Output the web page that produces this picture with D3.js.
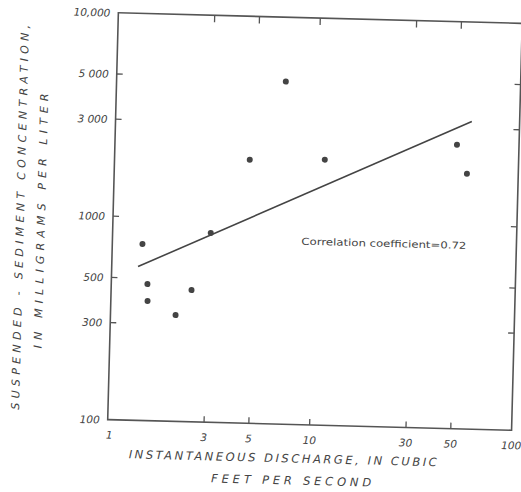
<!DOCTYPE html>
<html>
<head>
<meta charset="utf-8">
<script src="https://cdn.jsdelivr.net/npm/d3@7"></script>
<style>
  body { margin: 0; background: #fff; }
  text { font-family: "DejaVu Sans", sans-serif; font-style: italic; fill: #444; }
</style>
</head>
<body>
<div id="chart"></div>
<script>
// donnees
const discharge = [1.41, 1.51, 1.52, 2.10, 2.50, 3.06, 4.67, 6.88, 10.98, 49.3, 55.7];
const concentration = [737, 469, 387, 333, 444, 852, 1972, 4827, 2018, 2486, 1796];
const fitX = [1.35, 58];
const fitY = [570, 3250];
const xTicks = [1, 3, 5, 10, 30, 50, 100];
const xTickLabels = ["1", "3", "5", "10", "30", "50", "100"];
const yTicks = [100, 300, 500, 1000, 3000, 5000, 10000];
const yTickLabels = ["100", "300", "500", "1000", "3 000", "5 000", "10,000"];

const width = 521, height = 492;
const mLeft = 113, mRight = 517, mTop = 18, mBottom = 425;

const svg = d3.select("#chart")
    .append("svg")
    .attr("width", width)
    .attr("height", height);

// la figure scannee est legerement tournee
const g = svg.append("g")
    .attr("transform", "rotate(1.5, 315, 220)");

const x = d3.scaleLog().domain([1, 100]).range([mLeft, mRight]);
const y = d3.scaleLog().domain([100, 10000]).range([mBottom, mTop]);

// cadre
g.append("rect")
    .attr("x", mLeft).attr("y", mTop)
    .attr("width", mRight - mLeft).attr("height", mBottom - mTop)
    .attr("fill", "none")
    .attr("stroke", "#555")
    .attr("stroke-width", 1.6);

// graduations internes
const inner = xTicks.slice(1, -1);
g.append("g").selectAll("line")
    .data(inner)
    .enter().append("line")
    .attr("x1", d => x(d)).attr("x2", d => x(d))
    .attr("y1", mBottom).attr("y2", mBottom - 6)
    .attr("stroke", "#555").attr("stroke-width", 1.3);
g.append("g").selectAll("line")
    .data(inner)
    .enter().append("line")
    .attr("x1", d => x(d)).attr("x2", d => x(d))
    .attr("y1", mTop).attr("y2", mTop + 7)
    .attr("stroke", "#555").attr("stroke-width", 1.3);

const innerY = yTicks.slice(1, -1);
g.append("g").selectAll("line")
    .data(innerY)
    .enter().append("line")
    .attr("x1", mLeft).attr("x2", mLeft + 6)
    .attr("y1", d => y(d)).attr("y2", d => y(d))
    .attr("stroke", "#555").attr("stroke-width", 1.3);
g.append("g").selectAll("line")
    .data(innerY)
    .enter().append("line")
    .attr("x1", mRight).attr("x2", mRight - 6)
    .attr("y1", d => y(d)).attr("y2", d => y(d))
    .attr("stroke", "#555").attr("stroke-width", 1.3);

// etiquettes
g.append("g").selectAll("text")
    .data(xTicks)
    .enter().append("text")
    .attr("x", (d, i) => x(d) + (i === 0 ? 2 : 0))
    .attr("y", mBottom + 19)
    .attr("text-anchor", "middle")
    .attr("font-size", 10.5)
    .text((d, i) => xTickLabels[i]);

g.append("g").selectAll("text")
    .data(yTicks)
    .enter().append("text")
    .attr("x", mLeft - 8)
    .attr("y", d => y(d) + 4)
    .attr("text-anchor", "end")
    .attr("font-size", 10.5)
    .text((d, i) => yTickLabels[i]);

// titres des axes
g.append("text")
    .attr("x", 289).attr("y", 463)
    .attr("text-anchor", "middle")
    .attr("font-size", 11.5)
    .attr("textLength", 308).attr("lengthAdjust", "spacing")
    .text("INSTANTANEOUS DISCHARGE, IN CUBIC");
g.append("text")
    .attr("x", 298).attr("y", 485)
    .attr("text-anchor", "middle")
    .attr("font-size", 11.5)
    .attr("textLength", 160).attr("lengthAdjust", "spacing")
    .text("FEET PER SECOND");

g.append("text")
    .attr("transform", "translate(24, 225) rotate(-90)")
    .attr("text-anchor", "middle")
    .attr("font-size", 11)
    .attr("textLength", 385).attr("lengthAdjust", "spacing")
    .text("SUSPENDED - SEDIMENT   CONCENTRATION,");
g.append("text")
    .attr("transform", "translate(45, 228) rotate(-90)")
    .attr("text-anchor", "middle")
    .attr("font-size", 11)
    .attr("textLength", 255).attr("lengthAdjust", "spacing")
    .text("IN MILLIGRAMS   PER   LITER");

// droite de regression
g.append("path")
    .datum(fitX.map((d, i) => [d, fitY[i]]))
    .attr("fill", "none")
    .attr("stroke", "#444")
    .attr("stroke-width", 1.6)
    .attr("d", d3.line().x(d => x(d[0])).y(d => y(d[1])));

// points
g.append("g").selectAll("circle")
    .data(discharge)
    .enter().append("circle")
    .attr("cx", d => x(d))
    .attr("cy", (d, i) => y(concentration[i]))
    .attr("r", 3)
    .attr("fill", "#444");

g.append("text")
    .attr("x", 302).attr("y", 245)
    .attr("font-size", 9.5)
    .style("font-style", "normal")
    .attr("textLength", 165).attr("lengthAdjust", "spacingAndGlyphs")
    .text("Correlation coefficient=0.72");
</script>
</body>
</html>
